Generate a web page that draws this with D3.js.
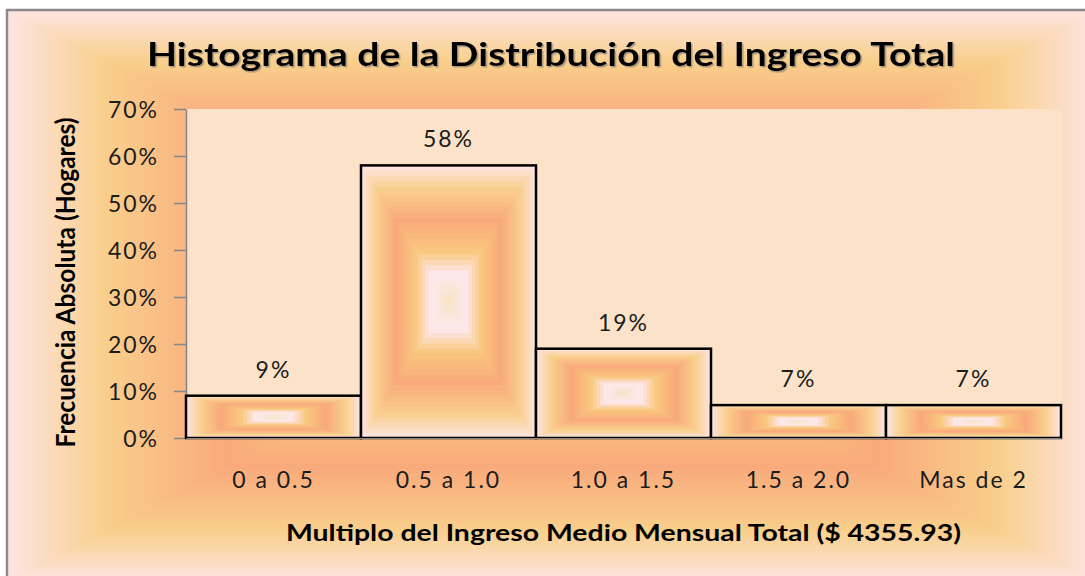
<!DOCTYPE html>
<html>
<head>
<meta charset="utf-8">
<script src="https://cdn.jsdelivr.net/npm/d3@7"></script>
<style>
  body { margin: 0; background: #ffffff; }
  svg { display: block; }
  text { font-family: Lato, "Open Sans", "DejaVu Sans", sans-serif; fill: #1c1c1c; }
</style>
</head>
<body>
<svg id="chart" width="1085" height="576"></svg>
<script>
// ---- data ----
const categories = ["0 a 0.5", "0.5 a 1.0", "1.0 a 1.5", "1.5 a 2.0", "Mas de 2"];
const shares = [0.09, 0.58, 0.19, 0.07, 0.07];
const yTickValues = [0, 0.1, 0.2, 0.3, 0.4, 0.5, 0.6, 0.7];
const titleText = "Histograma de la Distribución del Ingreso Total";
const yTitleText = "Frecuencia Absoluta (Hogares)";
const xTitleText = "Multiplo del Ingreso Medio Mensual Total ($ 4355.93)";

// ---- layout ----
const W = 1085, H = 576;
const frame = { x: 7, y: 10, w: 1090, h: 572 };
const plot = { left: 186, right: 1061, top: 109, bottom: 438 };

const svg = d3.select("#chart");
const pct = d3.format(".0%");

// "rectangle from centre" gradient: colour as a function of the
// normalised distance from the edge (0) to the centre (1)
const rampStops = [0, 0.18, 0.4, 0.63, 0.8, 1];
const rampColors = ["#fde5e4", "#f9cf8c", "#f9aa7c", "#f9c77e", "#fde9ef", "#f9e3c6"];
const ramp = d3.scaleLinear().domain(rampStops).range(rampColors).interpolate(d3.interpolateRgb);

function rectGradient(g, x, y, w, h, steps) {
  const ts = d3.range(steps).map(i => i / steps);
  g.selectAll(null).data(ts).join("rect")
    .attr("x", t => x + t * w / 2)
    .attr("y", t => y + t * h / 2)
    .attr("width", t => w * (1 - t))
    .attr("height", t => h * (1 - t))
    .attr("fill", t => ramp(t + 0.5 / steps));
}

// chart background
const bg = svg.append("g");
rectGradient(bg, frame.x, frame.y, frame.w, frame.h, 160);
svg.append("path")
  .attr("d", `M${frame.x},${H}V${frame.y}H${W}`)
  .attr("fill", "none").attr("stroke", "#8a8a8a").attr("stroke-width", 2.5);

// plot area
svg.append("rect")
  .attr("x", plot.left).attr("y", plot.top)
  .attr("width", plot.right - plot.left).attr("height", plot.bottom - plot.top)
  .attr("fill", "#fbe2c9");

// scales
const x = d3.scaleBand().domain(categories).range([plot.left, plot.right]).padding(0);
const y = d3.scaleLinear().domain([0, 0.7]).range([plot.bottom, plot.top]);

// title with soft shadow
const defs = svg.append("defs");
const shadow = defs.append("filter").attr("id", "shadow")
  .attr("x", "-5%").attr("y", "-20%").attr("width", "110%").attr("height", "140%");
shadow.append("feDropShadow").attr("dx", 1.5).attr("dy", 1.5).attr("stdDeviation", 0.6)
  .attr("flood-color", "#6b6b6b").attr("flood-opacity", 0.55);

svg.append("text")
  .attr("x", 551).attr("y", 66)
  .attr("text-anchor", "middle")
  .attr("font-size", 32).attr("font-weight", 700)
  .attr("textLength", 808).attr("lengthAdjust", "spacingAndGlyphs")
  .attr("filter", "url(#shadow)")
  .style("fill", "#000")
  .text(titleText);

// y axis
const yAxis = svg.append("g")
  .attr("transform", `translate(${plot.left},0)`)
  .call(d3.axisLeft(y).tickValues(yTickValues).tickFormat(pct)
    .tickSize(12).tickSizeOuter(0).tickPadding(15));
yAxis.select(".domain").attr("stroke", "#868686").attr("stroke-width", 1.5);
yAxis.selectAll(".tick line").attr("stroke", "#868686").attr("stroke-width", 1.5);
yAxis.selectAll(".tick text")
  .attr("font-size", 23).attr("letter-spacing", 2).attr("dy", "0.36em")
  .attr("font-family", null).style("fill", "#1c1c1c");

// bars
const bars = svg.append("g").selectAll("g").data(categories).join("g");
bars.each(function (c, i) {
  rectGradient(d3.select(this), x(c), y(shares[i]), x.bandwidth(), y(0) - y(shares[i]), 26);
});
bars.append("rect")
  .attr("x", c => x(c))
  .attr("y", (c, i) => y(shares[i]))
  .attr("width", x.bandwidth())
  .attr("height", (c, i) => y(0) - y(shares[i]))
  .attr("fill", "none").attr("stroke", "#000").attr("stroke-width", 2.5);

// x axis
const xAxis = svg.append("g")
  .attr("transform", `translate(0,${plot.bottom})`)
  .call(d3.axisBottom(x).tickSize(0).tickSizeOuter(0).tickPadding(34));
xAxis.select(".domain").attr("stroke", "#868686").attr("stroke-width", 1);
xAxis.selectAll(".tick text")
  .attr("font-size", 23).attr("letter-spacing", 2)
  .attr("font-family", null).style("fill", "#1c1c1c");

// value labels
svg.append("g").selectAll("text").data(categories).join("text")
  .attr("x", c => x(c) + x.bandwidth() / 2)
  .attr("y", (c, i) => y(shares[i]) - 18)
  .attr("text-anchor", "middle")
  .attr("font-size", 23).attr("letter-spacing", 2)
  .text((c, i) => pct(shares[i]));

// axis titles
svg.append("text")
  .attr("transform", `translate(75,${(plot.top + plot.bottom) / 2 + 9}) rotate(-90)`)
  .attr("text-anchor", "middle")
  .attr("font-size", 26).attr("font-weight", 700)
  .attr("textLength", 330).attr("lengthAdjust", "spacingAndGlyphs")
  .style("fill", "#000")
  .text(yTitleText);

svg.append("text")
  .attr("x", (plot.left + plot.right) / 2).attr("y", 541)
  .attr("text-anchor", "middle")
  .attr("font-size", 22).attr("font-weight", 700)
  .attr("textLength", 675).attr("lengthAdjust", "spacingAndGlyphs")
  .style("fill", "#000")
  .text(xTitleText);
</script>
</body>
</html>
